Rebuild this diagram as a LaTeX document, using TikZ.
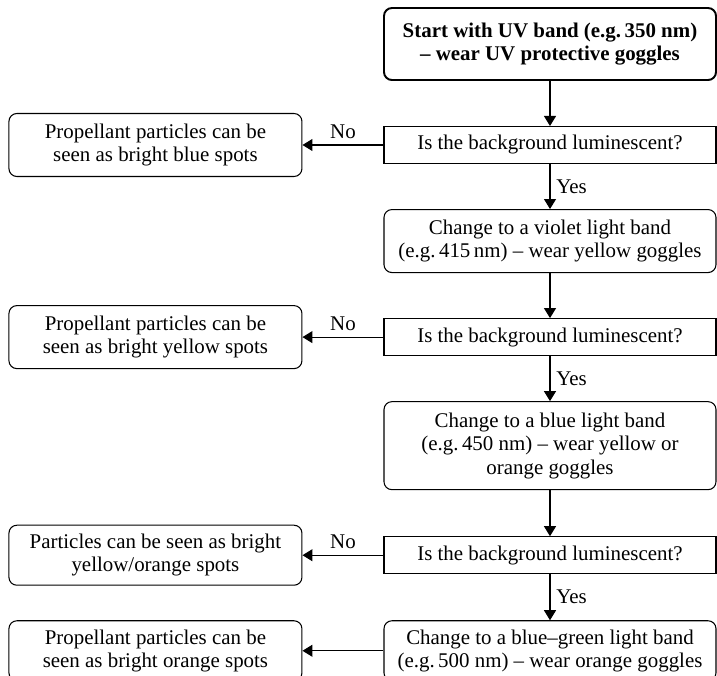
\documentclass[tikz,border=0pt]{standalone}
\usepackage{fontspec}
\setmainfont{Liberation Serif}
\usetikzlibrary{arrows.meta,positioning}
\tikzset{
  stepnode/.style={
    rectangle, rounded corners=4.5pt, draw, line width=0.6pt,
    align=center, minimum width=6.64cm},
  startnode/.style={
    stepnode, line width=1.1pt, minimum height=1.44cm,
    font=\fontsize{11.9}{13.3}\selectfont\bfseries},
  asknode/.style={
    stepnode, rounded corners=0pt, minimum height=0.74cm},
  resultnode/.style={
    stepnode, minimum width=5.86cm, minimum height=1.26cm},
  flowarrow/.style={-{Triangle[length=2mm,width=2.4mm]}, line width=0.6pt}
}
\begin{document}
\begin{tikzpicture}[node distance=0.9cm, font=\fontsize{11.9}{13.3}\selectfont]
    \useasboundingbox (0,0) rectangle (14.34,-13.5);
    \node[startnode] (start) at (11.0,-0.88)
        {Start with UV band (e.g.\,350 nm)\\ -- wear UV protective goggles};
    \node[asknode, below=of start] (ask1) {Is the background luminescent?};
    \node[stepnode, minimum height=1.26cm, below=of ask1] (violet)
        {Change to a violet light band\\ (e.g.\,415\,nm) -- wear yellow goggles};
    \node[asknode, below=of violet] (ask2) {Is the background luminescent?};
    \node[stepnode, minimum height=1.76cm, below=of ask2] (blue)
        {Change to a blue light band\\ (e.g.\,450 nm) -- wear yellow or\\ orange goggles};
    \node[asknode, below=0.92cm of blue] (ask3) {Is the background luminescent?};
    \node[stepnode, minimum height=1.2cm, below=0.92cm of ask3] (bluegreen)
        {Change to a blue--green light band\\ (e.g.\,500 nm) -- wear orange goggles};

    \node[resultnode, left=1.62cm of ask1] (res1)
        {Propellant particles can be\\ seen as bright blue spots};
    \node[resultnode, left=1.62cm of ask2] (res2)
        {Propellant particles can be\\ seen as bright yellow spots};
    \node[resultnode, minimum height=1.2cm, left=1.62cm of ask3] (res3)
        {Particles can be seen as bright\\ yellow/orange spots};
    \node[resultnode, minimum height=1.2cm, left=1.62cm of bluegreen] (res4)
        {Propellant particles can be\\ seen as bright orange spots};

    \draw[flowarrow] (start) -- (ask1);
    \draw[flowarrow] (ask1) -- node[right] {Yes} (violet);
    \draw[flowarrow] (violet) -- (ask2);
    \draw[flowarrow] (ask2) -- node[right] {Yes} (blue);
    \draw[flowarrow] (blue) -- (ask3);
    \draw[flowarrow] (ask3) -- node[right] {Yes} (bluegreen);

    \draw[flowarrow] (ask1) -- node[above] {No} (res1);
    \draw[flowarrow] (ask2) -- node[above] {No} (res2);
    \draw[flowarrow] (ask3) -- node[above] {No} (res3);
    \draw[flowarrow] (bluegreen) -- (res4);
\end{tikzpicture}
\end{document}
